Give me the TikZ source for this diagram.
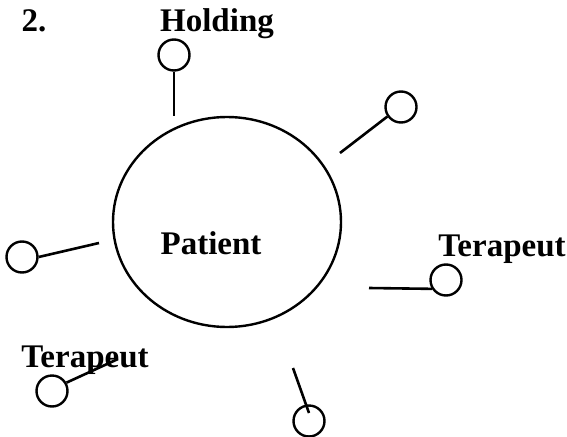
\documentclass[tikz,border=0pt]{standalone}
\usepackage{fontspec}
\setmainfont{Liberation Serif}
\begin{document}
\begin{tikzpicture}[x=1pt,y=-1pt,
  pin/.style={draw,circle,minimum size=31pt,inner sep=0pt,line width=2.4pt},
  stick/.style={line width=2.6pt},
  lbl/.style={font=\fontsize{33}{33}\selectfont\bfseries,inner sep=0pt,anchor=base}]
\useasboundingbox (0,0) rectangle (567,436);
% patient
\draw[line width=2.4pt] (227,222) ellipse [x radius=114, y radius=105];
\node[lbl] (patient) at (211,254) {Patient};
% labels
\node[lbl] (num) at (34,32) {2.};
\node[lbl] (holding) at (217,32) {Holding};
\node[lbl] (ter1) at (502,256) {Terapeut};
\node[lbl] (ter2) at (85,367) {Terapeut};
% pins
\node[pin] (p1) at (174,55) {};
\coordinate (e1) at (174,116);
\draw[stick] (p1.south) -- (e1);
\node[pin] (p2) at (401,107) {};
\coordinate (e2) at (340,153);
\draw[stick] (p2.-145) -- (e2);
\node[pin] (p3) at (446,280) {};
\coordinate (e3) at (369,288);
\draw[stick] (p3.-148) -- (e3);
\node[pin] (p4) at (309,421) {};
\coordinate (e4) at (293,368);
\coordinate (f4) at (309,413);
\draw[stick] (f4) -- (e4);
\node[pin] (p5) at (22,257) {};
\coordinate (e5) at (99,243);
\draw[stick] (p5.east) -- (e5);
\node[pin] (p6) at (52,391) {};
\coordinate (e6) at (118,359);
\draw[stick] (p6.30) -- (e6);
\end{tikzpicture}
\end{document}
